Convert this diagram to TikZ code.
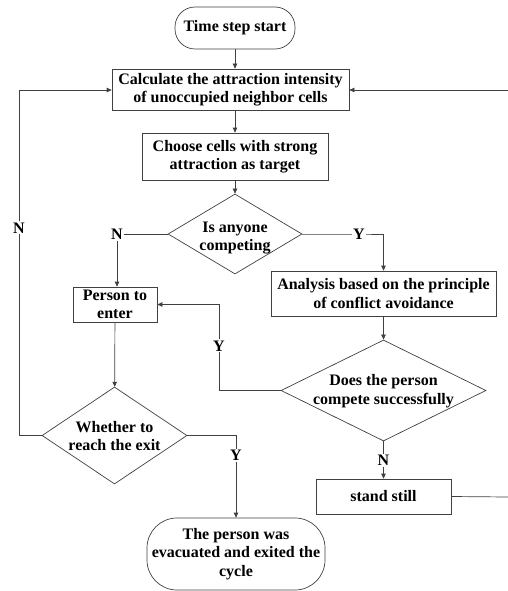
\documentclass[tikz,border=0pt]{standalone}
\usepackage{fontspec}
\setmainfont{Liberation Serif}
\usetikzlibrary{shapes.geometric,arrows.meta}
\tikzset{
  ln/.style={draw=black!75, line width=0.7pt},
  arr/.style={ln, -{Triangle[length=5pt,width=4.5pt]}},
  boxnode/.style={ln, rectangle, inner sep=0pt, align=center, font=\bfseries\fontsize{16}{18.5}\selectfont},
  termnode/.style={boxnode, rounded corners=20pt},
  dianode/.style={ln, diamond, inner sep=0pt},
  txtnode/.style={inner sep=0pt, align=center, font=\bfseries\fontsize{16}{18.5}\selectfont},
  yn/.style={fill=white, inner sep=1pt, font=\bfseries\fontsize{16}{18.5}\selectfont}
}
\begin{document}
\begin{tikzpicture}[x=1pt,y=-1pt]
\useasboundingbox (0,0) rectangle (508,591);
% nodes
\node[termnode, minimum width=120pt, minimum height=42pt] (start) at (235,28) {Time step start};
\node[boxnode, minimum width=237pt, minimum height=41pt] (calc) at (230.5,89.5) {Calculate the attraction intensity\\of unoccupied neighbor cells};
\node[boxnode, minimum width=186pt, minimum height=47pt] (choose) at (235,156.5) {Choose cells with strong\\attraction as target};
\node[dianode, minimum width=134pt, minimum height=80pt] (d1) at (235,234) {};
\node[txtnode] (d1t) at (235,238) {Is anyone\\competing};
\node[boxnode, minimum width=84pt, minimum height=35pt] (enter) at (115,304.5) {Person to\\enter};
\node[boxnode, minimum width=225pt, minimum height=45pt] (anal) at (383.5,293.5) {Analysis based on the principle\\of conflict avoidance};
\node[dianode, minimum width=205pt, minimum height=101pt] (d2) at (383.5,390.5) {};
\node[txtnode] (d2t) at (383.5,391) {Does the person\\compete successfully};
\node[dianode, minimum width=145pt, minimum height=97pt] (d3) at (114.5,435.5) {};
\node[txtnode] (d3t) at (114.5,436) {Whether to\\reach the exit};
\node[termnode, rounded corners=30pt, minimum width=178pt, minimum height=72pt] (endn) at (236,554) {The person was\\evacuated and exited the\\cycle};
\node[boxnode, minimum width=135pt, minimum height=35pt] (still) at (383.5,496.5) {stand still};
\coordinate (rin) at (508,90);
\coordinate (rout) at (508,497);
% connectors
\draw[arr] (start) -- (start |- calc.north);
\draw[arr] (start |- calc.south) -- (choose);
\draw[arr] (choose) -- (d1);
\draw[ln] (d1.west) -- (117,234) node[yn] (n1) {N};
\draw[arr] (n1) -- (enter.north -| n1);
\draw[ln] (d1.east) -- (359,234) node[yn] (y1) {Y} -- (383.5,234);
\draw[arr] (383.5,234) -- (anal);
\draw[arr] (anal) -- (d2);
\draw[ln] (d2.west) -- (219,390.5) -- (219,346) node[yn] (y2) {Y};
\draw[arr] (y2) -- (219,304.5) -- (enter.east);
\draw[arr] (enter) -- (d3);
\draw[ln] (d3.west) -- (19,435.5) -- (19,228) node[yn] (n2) {N};
\draw[arr] (n2) -- (19,90) -- (calc.west |- 0,90);
\draw[ln] (d3.east) -- (236,435.5) -- (236,455) node[yn] (y3) {Y};
\draw[arr] (y3) -- (endn);
\draw[ln] (d2.south) -- (383.5,460) node[yn] (n3) {N};
\draw[arr] (n3) -- (still);
\draw[ln] (still.east) -- (rout);
\draw[arr] (rin) -- (calc.east |- rin);
\end{tikzpicture}
\end{document}
